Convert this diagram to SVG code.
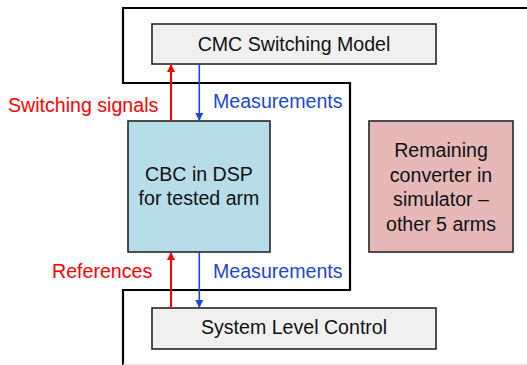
<svg xmlns="http://www.w3.org/2000/svg" width="527" height="365" viewBox="0 0 527 365">
  <defs>
    <marker id="headRed" viewBox="0 0 8 8" refX="7.5" refY="4" markerWidth="8" markerHeight="8" markerUnits="userSpaceOnUse" orient="auto">
      <path d="M0,0 L8,4 L0,8 Z" fill="#ff0000"/>
    </marker>
    <marker id="headBlue" viewBox="0 0 8 8" refX="7.5" refY="4" markerWidth="8" markerHeight="8" markerUnits="userSpaceOnUse" orient="auto">
      <path d="M0,0 L8,4 L0,8 Z" fill="#1a47d4"/>
    </marker>
    <style>
      text { font-family: "Liberation Sans", Arial, sans-serif; font-size: 19.6px; }
      .box { stroke: #262626; stroke-width: 1.6; }
      .ctl { fill: #f0f0f0; }
      .dsp { fill: #b7dde8; }
      .sim { fill: #e6b8b7; }
      .label { fill: #111111; text-anchor: middle; }
      .red { fill: #ff0000; }
      .blue { fill: #1a47d4; }
      .sig { stroke: #ff0000; stroke-width: 2; fill: none; marker-end: url(#headRed); }
      .meas { stroke: #1a47d4; stroke-width: 1.6; fill: none; marker-end: url(#headBlue); }
    </style>
  </defs>
  <rect width="527" height="365" fill="#ffffff"/>

  <!-- simulator boundary outline -->
  <g id="boundary">
    <path d="M527,8 L123,8 L123,83 L350,83 L350,290 L123,290 L123,365" fill="none" stroke="#000000" stroke-width="2.2"/>
    <line x1="123" y1="364" x2="527" y2="364" stroke="#e2e2e2" stroke-width="1.2"/>
  </g>

  <g id="cmc-model">
    <rect class="box ctl" x="152" y="24" width="284" height="40"/>
    <text class="label" x="294" y="51">CMC Switching Model</text>
  </g>

  <g id="cbc-dsp">
    <rect class="box dsp" x="128" y="121" width="142" height="131"/>
    <text class="label" x="199" y="181">CBC in DSP</text>
    <text class="label" x="199" y="205">for tested arm</text>
  </g>

  <g id="remaining-converter">
    <rect class="box sim" x="369" y="121" width="144" height="131"/>
    <text class="label" x="441" y="157">Remaining</text>
    <text class="label" x="441" y="182">converter in</text>
    <text class="label" x="441" y="206">simulator –</text>
    <text class="label" x="441" y="231">other 5 arms</text>
  </g>

  <g id="system-control">
    <rect class="box ctl" x="152" y="308" width="284" height="41"/>
    <text class="label" x="294" y="334">System Level Control</text>
  </g>

  <g id="connectors">
    <line class="sig" x1="171" y1="121" x2="171" y2="64.5"/>
    <line class="meas" x1="199.3" y1="64" x2="199.3" y2="120.5"/>
    <line class="sig" x1="171" y1="308" x2="171" y2="252.5"/>
    <line class="meas" x1="199.3" y1="252" x2="199.3" y2="307.5"/>
  </g>

  <g id="connector-labels">
    <text class="red" x="8" y="112">Switching signals</text>
    <text class="blue" x="213" y="108">Measurements</text>
    <text class="red" x="52" y="278">References</text>
    <text class="blue" x="213" y="278">Measurements</text>
  </g>
</svg>
